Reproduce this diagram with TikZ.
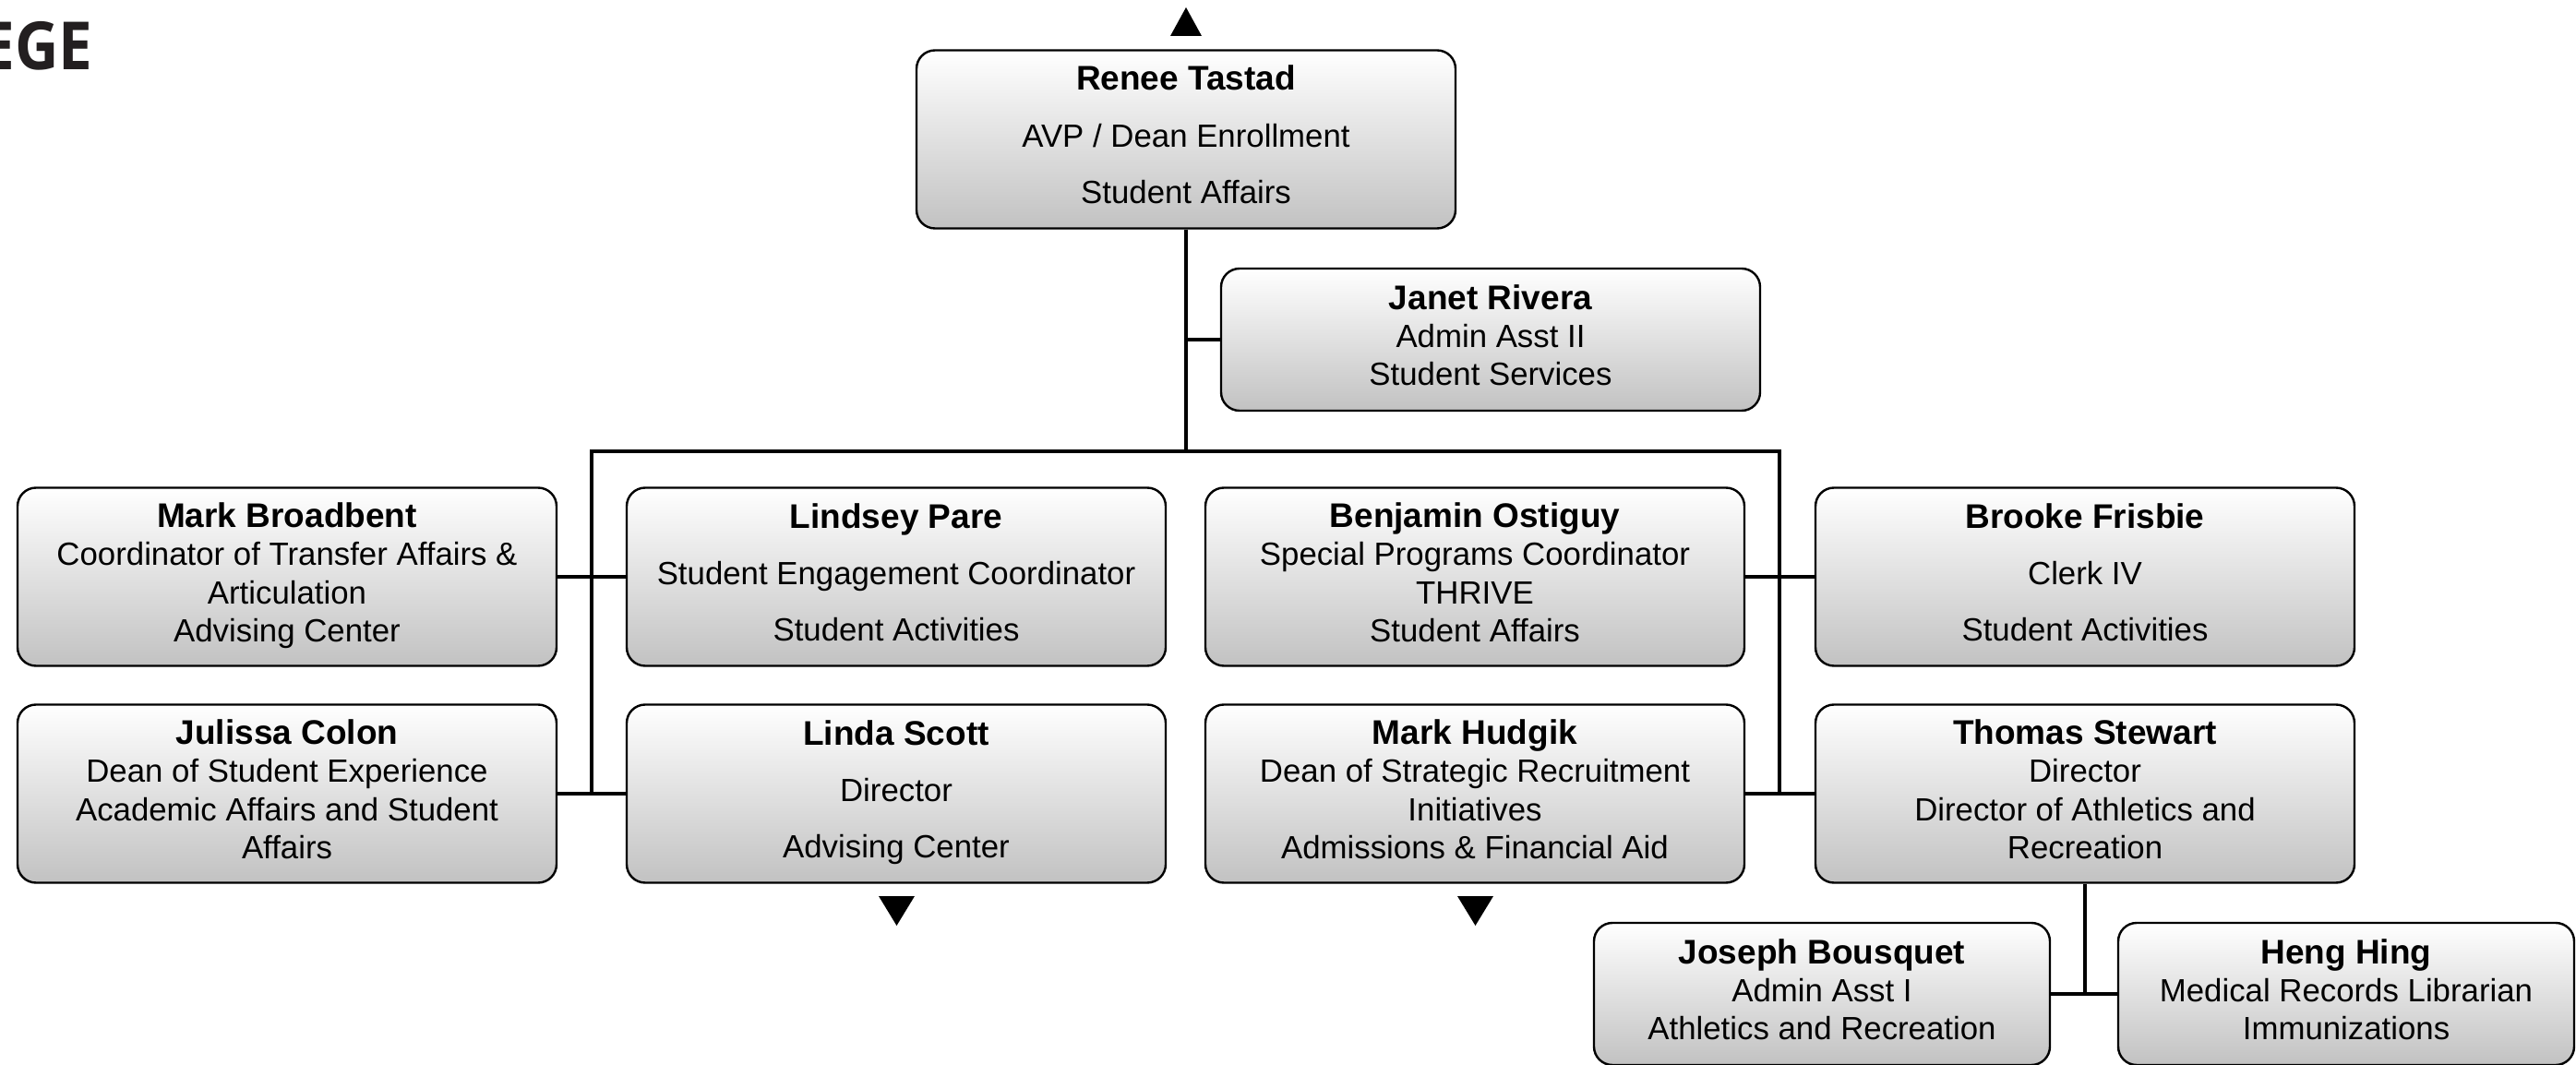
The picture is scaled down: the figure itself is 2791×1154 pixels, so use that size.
\documentclass[tikz,border=0pt]{standalone}
\usepackage{fontspec}
\setmainfont{Liberation Sans}[BoldFont={Liberation Sans Bold}]
\newfontfamily\logofont{Open Sans}[BoldFont={Open Sans Bold}]
\definecolor{logo}{HTML}{231F20}
\newcommand{\ld}{\rule[-5pt]{0pt}{0pt}}
\newcommand{\nm}[1]{{\fontsize{18.5}{20.7}\selectfont\bfseries #1}}
\begin{document}
\begin{tikzpicture}[x=0.5pt,y=-0.5pt,
  box/.style={draw=black, line width=1.2pt, rounded corners=10pt, top color=white, bottom color=black!24,
    align=center, minimum width=292pt, minimum height=96.5pt, inner sep=0pt,
    font=\fontsize{17.4}{20.7}\selectfont, text=black},
  smallbox/.style={box, minimum height=77pt},
  conn/.style={line width=1.7pt},
  tri/.style={fill=black}]
\useasboundingbox (0,0) rectangle (2791,1154);

\node[anchor=base east, inner sep=0pt, text=logo, font=\logofont\bfseries\fontsize{36}{36}\selectfont] (logo) at (101,76) {\scalebox{0.91}[1]{EGE}};

% top
\node[box] (rt) at (1285,151) {\nm{Renee Tastad}\\[10pt]AVP / Dean Enrollment\\[10pt]Student Affairs\ld};
\node[smallbox] (jr) at (1615,368) {\nm{Janet Rivera}\\Admin Asst II\\Student Services\ld};

% row 1
\node[box] (mb) at (311,625) {\nm{Mark Broadbent}\\Coordinator of Transfer Affairs \&\\Articulation\\Advising Center\ld};
\node[box] (lp) at (971,625) {\nm{Lindsey Pare}\\[10pt]Student Engagement Coordinator\\[10pt]Student Activities\ld};
\node[box] (bo) at (1598,625) {\nm{Benjamin Ostiguy}\\Special Programs Coordinator\\THRIVE\\Student Affairs\ld};
\node[box] (bf) at (2259,625) {\nm{Brooke Frisbie}\\[10pt]Clerk IV\\[10pt]Student Activities\ld};

% row 2
\node[box] (jc) at (311,860) {\nm{Julissa Colon}\\Dean of Student Experience\\Academic Affairs and Student\\Affairs\ld};
\node[box] (ls) at (971,860) {\nm{Linda Scott}\\[10pt]Director\\[10pt]Advising Center\ld};
\node[box] (mh) at (1598,860) {\nm{Mark Hudgik}\\Dean of Strategic Recruitment\\Initiatives\\Admissions \& Financial Aid\ld};
\node[box] (ts) at (2259,860) {\nm{Thomas Stewart}\\Director\\Director of Athletics and\\Recreation\ld};

% row 3
\node[smallbox, minimum width=247pt] (jb) at (1974,1077) {\nm{Joseph Bousquet}\\Admin Asst I\\Athletics and Recreation\ld};
\node[smallbox, minimum width=247pt] (hh) at (2542,1077) {\nm{Heng Hing}\\Medical Records Librarian\\Immunizations\ld};

% connectors
\coordinate (busL) at (641,489);
\coordinate (busR) at (1928,489);
\coordinate (busM) at (1285,489);
\draw[conn] (rt.south) -- (busM);
\draw[conn] (jr.west) -- (jr.west -| busM);
\draw[conn, line cap=rect] (busL) -- (busR);
\draw[conn] (busL) -- (busL |- jc.east);
\draw[conn] (busR) -- (busR |- mh.east);
\draw[conn] (mb.east) -- (lp.west);
\draw[conn] (jc.east) -- (ls.west);
\draw[conn] (bo.east) -- (bf.west);
\draw[conn] (mh.east) -- (ts.west);
\draw[conn] (ts.south) -- (ts.south |- jb.east);
\draw[conn] (jb.east) -- (hh.west);

% triangles
\fill[tri] (1268,39) -- (1302,39) -- (1285,8) -- cycle;
\fill[tri] (952,971) -- (991,971) -- (971.5,1003) -- cycle;
\fill[tri] (1579,971) -- (1618,971) -- (1598.5,1003) -- cycle;
\end{tikzpicture}
\end{document}
